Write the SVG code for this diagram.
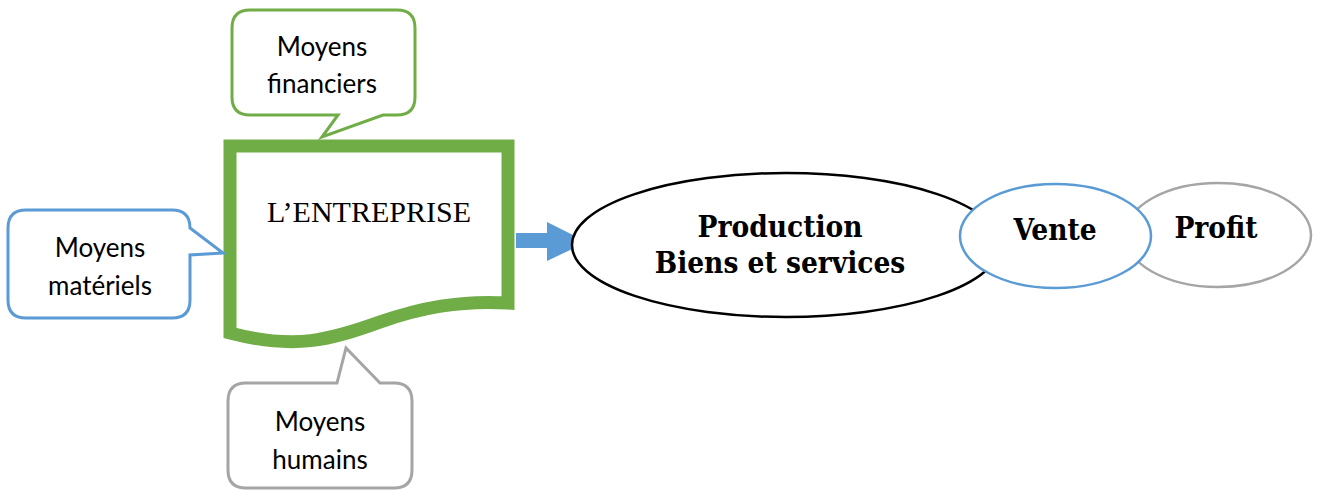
<svg xmlns="http://www.w3.org/2000/svg" width="1317" height="490" viewBox="0 0 1317 490">
<style>
.call{fill:#fff;stroke-width:3;stroke-linejoin:miter}
.ct{font-family:Lato,"Liberation Sans",sans-serif;font-size:26px;fill:#000;text-anchor:middle}
.bt{font-family:"DejaVu Serif Condensed","DejaVu Serif","Liberation Serif",serif;font-weight:bold;font-stretch:condensed;font-size:29.5px;fill:#000;text-anchor:middle}
.ell{fill:#fff;stroke-width:2.5}
</style>
<g id="connectors">
<path d="M516,233 H547 V222 L587,242 L547,261 V248 H516 Z" fill="#5B9BD5"/>
</g>
<g id="production">
<ellipse class="ell" cx="786" cy="245" rx="214" ry="72" stroke="#000"/>
<text class="bt" x="780" y="237">Production</text>
<text class="bt" x="780" y="273">Biens et services</text>
</g>
<g id="profit">
<ellipse class="ell" cx="1218" cy="235" rx="93" ry="52" stroke="#A5A5A5"/>
<text class="bt" x="1216" y="238">Profit</text>
</g>
<g id="vente">
<ellipse class="ell" cx="1055.5" cy="236" rx="95.5" ry="52" stroke="#5B9BD5"/>
<text class="bt" x="1055" y="240">Vente</text>
</g>
<g id="entreprise">
<path d="M230,146 H508 V303 C460,300 420,308 380,322 C330,340 295,350 230,333 Z" fill="#fff" stroke="#70AD47" stroke-width="13" stroke-linejoin="miter"/>
<text x="369" y="222" font-family="'Liberation Serif',serif" font-size="30" text-anchor="middle" fill="#000">L’ENTREPRISE</text>
</g>
<g id="moyens-financiers">
<path class="call" stroke="#70AD47" d="M250,10 H397 Q415,10 415,28 V97 Q415,115 397,115 H383 L322,137 L338,115 H250 Q232,115 232,97 V28 Q232,10 250,10 Z"/>
<text class="ct" x="322" y="56">Moyens</text>
<text class="ct" x="322" y="93">financiers</text>
</g>
<g id="moyens-materiels">
<path class="call" stroke="#5B9BD5" d="M26,210 H172 Q190,210 190,228 L223,253 L190,255 V300 Q190,318 172,318 H26 Q8,318 8,300 V228 Q8,210 26,210 Z"/>
<text class="ct" x="100" y="257">Moyens</text>
<text class="ct" x="100" y="295">matériels</text>
</g>
<g id="moyens-humains">
<path class="call" stroke="#A5A5A5" d="M246,383 H337 L346,348 L380,383 H394 Q412,383 412,401 V470 Q412,488 394,488 H246 Q228,488 228,470 V401 Q228,383 246,383 Z"/>
<text class="ct" x="320" y="431">Moyens</text>
<text class="ct" x="320" y="469">humains</text>
</g>
</svg>
